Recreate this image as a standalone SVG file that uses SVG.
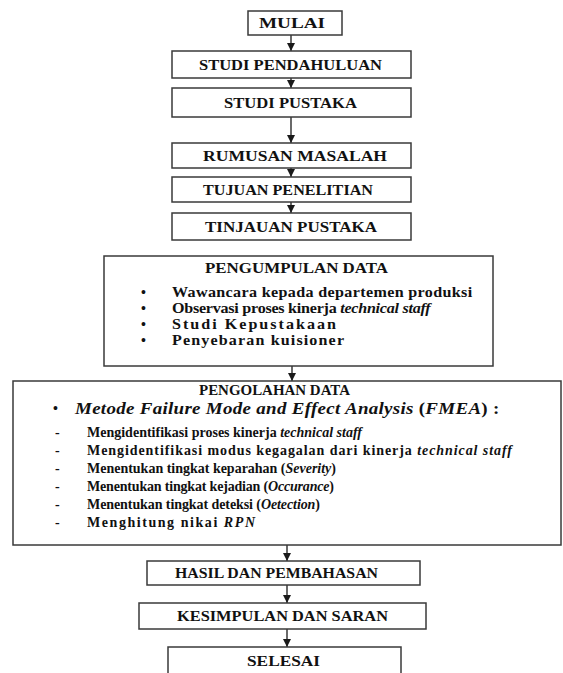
<svg xmlns="http://www.w3.org/2000/svg" width="563" height="673" viewBox="0 0 563 673">
<defs>
<marker id="ah" markerUnits="userSpaceOnUse" markerWidth="8" markerHeight="8" refX="8" refY="4" orient="auto">
<path d="M0,0 L8,4 L0,8 z" fill="#1a1a1a"/>
</marker>
<style>
.box{fill:#fff;stroke:#3a3a3a;stroke-width:1.5}
.t{font-weight:bold;font-size:14px;fill:#111}
.big{font-size:16.5px}
.i{font-style:italic}
.c{stroke:#1a1a1a;stroke-width:1.3;fill:none;marker-end:url(#ah)}
</style>
</defs>
<rect width="563" height="673" fill="#fff"/>
<g id="connectors">
<line class="c" x1="291" y1="35" x2="291" y2="51"/>
<line class="c" x1="291" y1="78" x2="291" y2="88"/>
<line class="c" x1="291" y1="117" x2="291" y2="143"/>
<line class="c" x1="291" y1="168" x2="291" y2="177"/>
<line class="c" x1="291" y1="202" x2="291" y2="213"/>
<line class="c" x1="292" y1="366" x2="292" y2="381"/>
<line class="c" x1="287" y1="545" x2="287" y2="561"/>
<line class="c" x1="287" y1="585" x2="287" y2="603"/>
<line class="c" x1="287" y1="629" x2="287" y2="647"/>
</g>
<g font-family="Liberation Serif, DejaVu Serif, Times New Roman, serif">
<g id="mulai">
<rect class="box" x="248" y="11" width="94" height="24"/>
<text class="t" x="259" y="28" textLength="66" lengthAdjust="spacingAndGlyphs">MULAI</text>
</g>
<g id="studi-pendahuluan">
<rect class="box" x="172" y="51" width="239" height="27"/>
<text class="t" x="199" y="69.5" textLength="183" lengthAdjust="spacingAndGlyphs">STUDI PENDAHULUAN</text>
</g>
<g id="studi-pustaka">
<rect class="box" x="172" y="88" width="239" height="29"/>
<text class="t" x="224" y="107.5" textLength="133" lengthAdjust="spacingAndGlyphs">STUDI PUSTAKA</text>
</g>
<g id="rumusan-masalah">
<rect class="box" x="172" y="143" width="239" height="25"/>
<text class="t" x="203" y="160.5" textLength="184" lengthAdjust="spacingAndGlyphs">RUMUSAN MASALAH</text>
</g>
<g id="tujuan-penelitian">
<rect class="box" x="172" y="177" width="239" height="25"/>
<text class="t" x="203" y="194.5" textLength="170" lengthAdjust="spacingAndGlyphs">TUJUAN PENELITIAN</text>
</g>
<g id="tinjauan-pustaka">
<rect class="box" x="172" y="213" width="239" height="27"/>
<text class="t" x="205" y="231.5" textLength="172" lengthAdjust="spacingAndGlyphs">TINJAUAN PUSTAKA</text>
</g>
<g id="pengumpulan-data">
<rect class="box" x="104" y="256" width="389" height="110"/>
<text class="t" x="205" y="273" textLength="183" lengthAdjust="spacingAndGlyphs">PENGUMPULAN DATA</text>
<text class="t" x="141" y="297">•</text>
<text class="t" x="141" y="313">•</text>
<text class="t" x="141" y="329">•</text>
<text class="t" x="141" y="345">•</text>
<text class="t" transform="translate(172,297) scale(1.15,1)" x="0" y="0" textLength="261" lengthAdjust="spacing">Wawancara kepada departemen produksi</text>
<text class="t" transform="translate(172,313) scale(1.15,1)" x="0" y="0" textLength="225" lengthAdjust="spacing">Observasi proses kinerja <tspan class="i">technical staff</tspan></text>
<text class="t" transform="translate(172,329) scale(1.15,1)" x="0" y="0" textLength="142.6" lengthAdjust="spacing">Studi Kepustakaan</text>
<text class="t" transform="translate(172,345) scale(1.15,1)" x="0" y="0" textLength="149.6" lengthAdjust="spacing">Penyebaran kuisioner</text>
</g>
<g id="pengolahan-data">
<rect class="box" x="13" y="381" width="548" height="164"/>
<text class="t" x="199" y="395" textLength="151" lengthAdjust="spacingAndGlyphs">PENGOLAHAN DATA</text>
<text class="t" x="53" y="413">•</text>
<text class="t big" transform="translate(75,414) scale(1.15,1)" x="0" y="0" textLength="369" lengthAdjust="spacing"><tspan class="i">Metode Failure Mode and Effect Analysis</tspan> (<tspan class="i">FMEA</tspan>) :</text>
<text class="t" x="55" y="437">-</text>
<text class="t" x="55" y="455">-</text>
<text class="t" x="55" y="473">-</text>
<text class="t" x="55" y="491">-</text>
<text class="t" x="55" y="509">-</text>
<text class="t" x="55" y="527">-</text>
<text class="t" x="87" y="437" textLength="275" lengthAdjust="spacing">Mengidentifikasi proses kinerja <tspan class="i">technical staff</tspan></text>
<text class="t" x="87" y="455" textLength="425" lengthAdjust="spacing">Mengidentifikasi modus kegagalan dari kinerja <tspan class="i">technical staff</tspan></text>
<text class="t" x="87" y="473" textLength="249" lengthAdjust="spacing">Menentukan tingkat keparahan (<tspan class="i">Severity</tspan>)</text>
<text class="t" x="87" y="491" textLength="247" lengthAdjust="spacing">Menentukan tingkat kejadian (<tspan class="i">Occurance</tspan>)</text>
<text class="t" x="87" y="509" textLength="233" lengthAdjust="spacing">Menentukan tingkat deteksi (<tspan class="i">Oetection</tspan>)</text>
<text class="t" x="87" y="527" textLength="168" lengthAdjust="spacing">Menghitung nikai <tspan class="i">RPN</tspan></text>
</g>
<g id="hasil-pembahasan">
<rect class="box" x="147" y="561" width="273" height="24"/>
<text class="t" x="175" y="578" textLength="203" lengthAdjust="spacingAndGlyphs">HASIL DAN PEMBAHASAN</text>
</g>
<g id="kesimpulan-saran">
<rect class="box" x="139" y="603" width="287" height="26"/>
<text class="t" x="177" y="621" textLength="211" lengthAdjust="spacingAndGlyphs">KESIMPULAN DAN SARAN</text>
</g>
<g id="selesai">
<rect class="box" x="168" y="647" width="233" height="40"/>
<text class="t" x="247" y="666" textLength="73" lengthAdjust="spacingAndGlyphs">SELESAI</text>
</g>
</g>
</svg>
